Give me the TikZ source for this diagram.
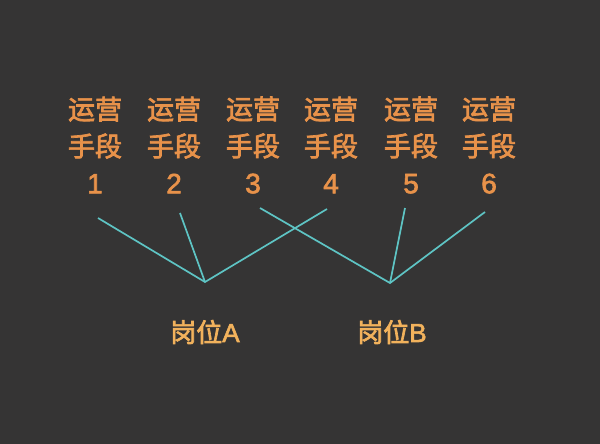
\documentclass[tikz,border=0pt]{standalone}
\usepackage{fontspec}
\setmainfont{Noto Sans CJK SC}[FakeBold=2.6]
\newfontfamily\latinf{Liberation Sans}[FakeBold=2.2]
\definecolor{bg}{HTML}{353434}
\definecolor{txtor}{HTML}{E8924A}
\definecolor{lblor}{HTML}{F2B25C}
\definecolor{cyanln}{HTML}{5EC4C4}
\begin{document}
\begin{tikzpicture}[x=1pt,y=-1pt,
  means/.style={text=txtor,font=\fontsize{27}{37}\selectfont,align=center,inner sep=0pt},
  post/.style={text=lblor,font=\fontsize{26}{30}\selectfont,inner sep=0pt},
  link/.style={draw=cyanln,line width=1.7pt}]
\fill[bg] (0,0) rectangle (600,444);
\useasboundingbox (0,0) rectangle (600,444);
\foreach \i/\x in {1/95,2/174,3/253,4/331,5/411,6/489}{
  \node[means] (m\i) at (\x,145) {运营\\手段\\{\latinf\fontsize{28}{37}\selectfont\i}};
}
\coordinate (a1) at (98,218);
\coordinate (a2) at (180,213);
\coordinate (a4) at (327,209);
\coordinate (b3) at (260,208);
\coordinate (b5) at (405,208);
\coordinate (b6) at (485,212);
\coordinate (va) at (205,282);
\coordinate (vb) at (390,283);
\draw[link] (a1) -- (va) -- (a4);
\draw[link] (a2) -- (va);
\draw[link] (b3) -- (vb) -- (b6);
\draw[link] (b5) -- (vb);
\node[post] (pa) at (205,332) {岗位{\latinf A}};
\node[post] (pb) at (392,332) {岗位{\latinf B}};
\end{tikzpicture}
\end{document}
